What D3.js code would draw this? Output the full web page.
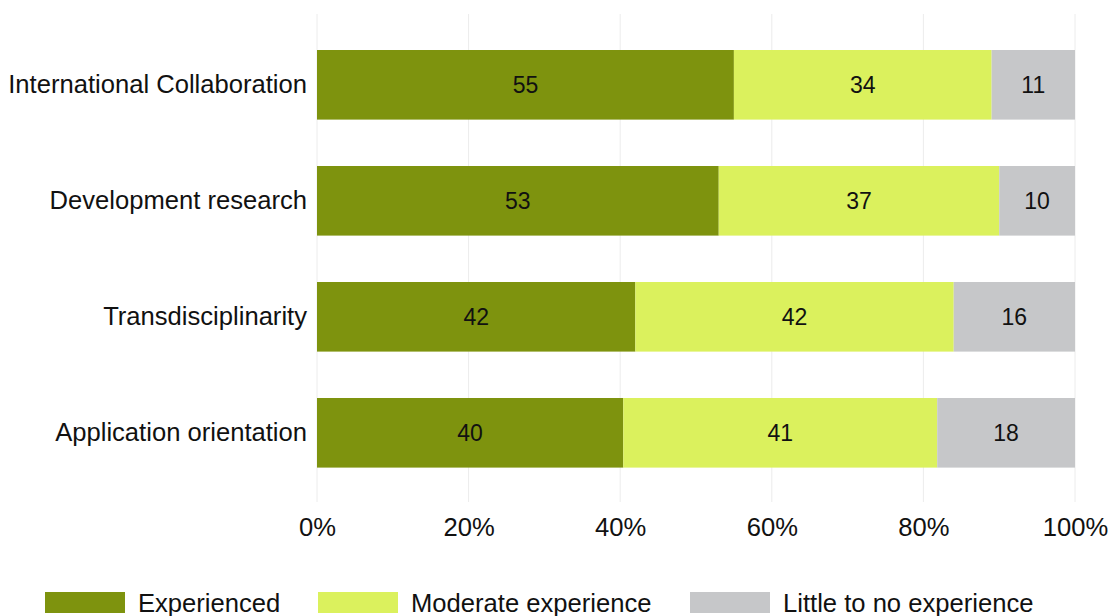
<!DOCTYPE html>
<html>
<head>
<meta charset="utf-8">
<script src="https://cdn.jsdelivr.net/npm/d3@7"></script>
<style>
  html, body { margin: 0; padding: 0; background: #fff; }
  svg { display: block; font-family: "Liberation Sans", Arial, sans-serif; }
</style>
</head>
<body>
<svg id="chart" width="1110" height="616"></svg>
<script>
// Survey categories, top to bottom
const categories = [
  "International Collaboration",
  "Development research",
  "Transdisciplinarity",
  "Application orientation"
];
const seriesNames = ["Experienced", "Moderate experience", "Little to no experience"];
const experienced = [55, 53, 42, 40];
const moderate = [34, 37, 42, 41];
const little = [11, 10, 16, 18];
const tickValues = [0, 0.2, 0.4, 0.6, 0.8, 1.0];
const colors = ["#7e930e", "#dbf15d", "#c6c7c9"];

const rows = categories.map((c, i) => ({
  category: c,
  "Experienced": experienced[i],
  "Moderate experience": moderate[i],
  "Little to no experience": little[i]
}));

const svg = d3.select("#chart");
const FONT = "'Liberation Sans', Arial, sans-serif";

const x = d3.scaleLinear().domain([0, 1]).range([317, 1075]);
const y = d3.scaleBand().domain(categories).range([26.8, 490.8])
  .paddingInner(0.4).paddingOuter(0.2);

// Stacked shares of each row total
const stack = d3.stack().keys(seriesNames).offset(d3.stackOffsetExpand);
const layers = stack(rows);

// Vertical gridlines
svg.append("g")
  .selectAll("line")
  .data(tickValues)
  .join("line")
  .attr("x1", d => x(d)).attr("x2", d => x(d))
  .attr("y1", 14).attr("y2", 502)
  .attr("stroke", "#ececec")
  .attr("stroke-width", 1);

// Bars
const layerG = svg.append("g")
  .selectAll("g")
  .data(layers)
  .join("g")
  .attr("fill", (d, i) => colors[i]);

layerG.selectAll("rect")
  .data(d => d.map(p => ({ p, key: d.key })))
  .join("rect")
  .attr("x", d => x(d.p[0]))
  .attr("width", d => x(d.p[1]) - x(d.p[0]))
  .attr("y", d => y(d.p.data.category))
  .attr("height", y.bandwidth());

// Value labels in segments
layerG.selectAll("text")
  .data(d => d.map(p => ({ p, key: d.key })))
  .join("text")
  .attr("x", d => (x(d.p[0]) + x(d.p[1])) / 2)
  .attr("y", d => y(d.p.data.category) + y.bandwidth() / 2)
  .attr("dy", "0.36em")
  .attr("text-anchor", "middle")
  .attr("fill", "#111")
  .attr("font-size", 23)
  .text(d => d.p.data[d.key]);

// Category axis
const yAxis = svg.append("g")
  .attr("transform", "translate(317,0)")
  .call(d3.axisLeft(y).tickSize(0).tickPadding(10));
yAxis.select(".domain").remove();
yAxis.selectAll("text")
  .attr("font-size", 25.6)
  .attr("fill", "#111")
  .style("font-family", FONT);

// Percentage axis
const xAxis = svg.append("g")
  .attr("transform", "translate(0,502)")
  .call(d3.axisBottom(x).tickValues(tickValues).tickFormat(d3.format(".0%")).tickSize(0).tickPadding(16));
xAxis.select(".domain").remove();
xAxis.selectAll("text")
  .attr("font-size", 25.6)
  .attr("fill", "#111")
  .style("font-family", FONT);

// Legend
const legendX = [45, 318, 690];
const legend = svg.append("g")
  .selectAll("g")
  .data(seriesNames)
  .join("g")
  .attr("transform", (d, i) => `translate(${legendX[i]},592)`);
legend.append("rect")
  .attr("width", 80).attr("height", 21)
  .attr("fill", (d, i) => colors[i]);
legend.append("text")
  .attr("x", 93).attr("y", 11)
  .attr("dy", "0.36em")
  .attr("font-size", 25.6)
  .attr("fill", "#111")
  .text(d => d);
</script>
</body>
</html>
